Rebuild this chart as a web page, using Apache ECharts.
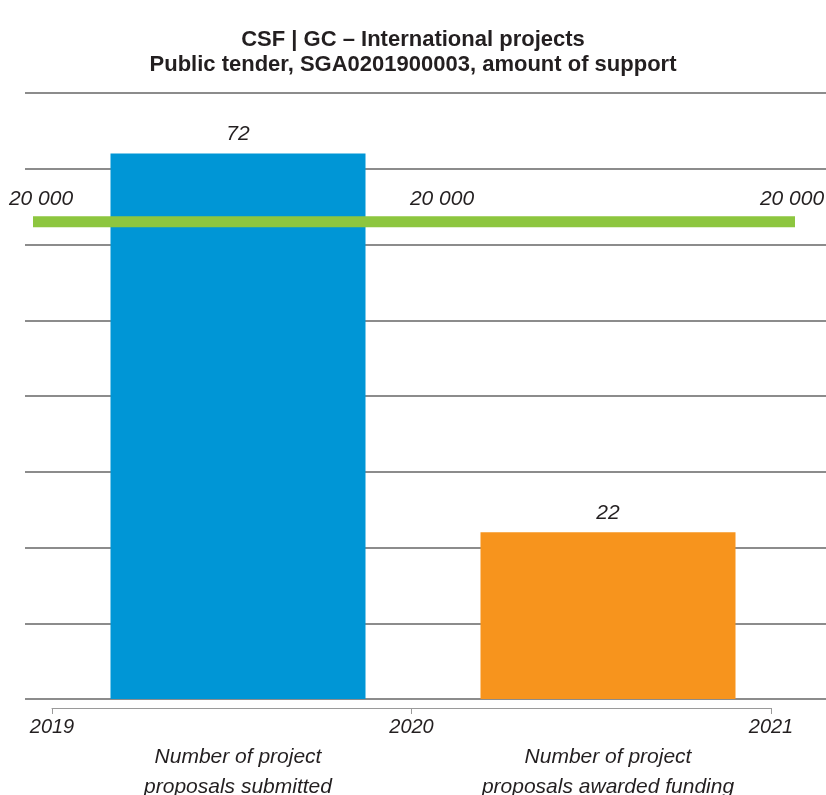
<!DOCTYPE html>
<html>
<head>
<meta charset="utf-8">
<script src="https://cdn.jsdelivr.net/npm/echarts@6/dist/echarts.min.js"></script>
<style>
html,body{margin:0;padding:0;background:#fff;}
#chart{width:826px;height:795px;}
</style>
</head>
<body>
<div id="chart"></div>
<script>
// ---- data ----
const titleLines = ["CSF | GC \u2013 International projects", "Public tender, SGA0201900003, amount of support"];
const categories = ["Number of project\nproposals submitted", "Number of project\nproposals awarded funding"];
const proposalCounts = [72, 22];
const years = [2019, 2020, 2021];
const supportAmounts = [20000, 20000, 20000];

// ---- styles ----
const barColors = ["#0096d6", "#f7941d"];
const greenColor = "#8dc63f";
const textColor = "#231f20";
const gridColor = "#8c8c8c";
const fontFamily = "'Liberation Sans', Arial, Helvetica, sans-serif";
const greenLabelOffsets = [[8, 0], [28, 0], [-3, 0]];

function fmtSpace(v) {
  return String(v).replace(/\B(?=(\d{3})+(?!\d))/g, " ");
}

const chart = echarts.init(document.getElementById('chart'), null, {renderer: 'canvas'});

const option = {
  backgroundColor: '#ffffff',
  animation: false,
  title: {
    text: titleLines.join('\n'),
    left: 'center',
    top: 22,
    textStyle: {
      fontFamily: fontFamily,
      fontWeight: 'bold',
      fontSize: 22,
      lineHeight: 25,
      color: textColor
    }
  },
  grid: [
    {left: 25, right: 0, top: 93, bottom: 96, outerBoundsMode: 'none', containLabel: false},
    {left: 53, right: 33, top: 93, bottom: 96, outerBoundsMode: 'none', containLabel: false},
    {left: 33, right: 31, top: 93, bottom: 96, outerBoundsMode: 'none', containLabel: false},
    {left: 52, right: 55, top: 700, bottom: 87, outerBoundsMode: 'none', containLabel: false}
  ],
  xAxis: [
    {gridIndex: 0, type: 'value', min: 0, max: 1, show: false},
    {
      gridIndex: 1, type: 'category', data: categories,
      axisLine: {show: false}, axisTick: {show: false},
      axisLabel: {
        interval: 0, margin: 43,
        fontFamily: fontFamily, fontStyle: 'italic', fontSize: 21,
        lineHeight: 30, color: textColor
      }
    },
    {gridIndex: 2, type: 'value', min: years[0], max: years[years.length - 1], show: false},
    {
      gridIndex: 3, type: 'value', min: years[0], max: years[years.length - 1], interval: 1,
      position: 'bottom',
      axisLine: {show: true, lineStyle: {color: '#9a9a9a', width: 1}},
      axisTick: {show: true, length: 6, lineStyle: {color: '#9a9a9a', width: 1}},
      splitLine: {show: false},
      axisLabel: {
        margin: 9, showMinLabel: true, showMaxLabel: true,
        formatter: function (v) { return String(v); },
        fontFamily: fontFamily, fontStyle: 'italic', fontSize: 20, color: textColor
      }
    }
  ],
  yAxis: [
    {
      gridIndex: 0, type: 'value', min: 0, max: 80, interval: 10,
      axisLine: {show: false}, axisTick: {show: false}, axisLabel: {show: false},
      splitLine: {show: true, lineStyle: {color: gridColor, width: 2}}
    },
    {gridIndex: 1, type: 'value', min: 0, max: 80, show: false, splitLine: {show: false}},
    {gridIndex: 2, type: 'value', min: 0, max: 25400, show: false, splitLine: {show: false}},
    {gridIndex: 3, type: 'value', min: 0, max: 1, show: false, splitLine: {show: false}}
  ],
  series: [
    {
      type: 'bar',
      xAxisIndex: 1, yAxisIndex: 1,
      barWidth: 255,
      data: proposalCounts.map((v, i) => ({value: v, itemStyle: {color: barColors[i]}})),
      label: {
        show: true, position: 'top', distance: 9,
        fontFamily: fontFamily, fontStyle: 'italic', fontSize: 21, color: textColor
      },
      z: 3
    },
    {
      type: 'line',
      xAxisIndex: 2, yAxisIndex: 2,
      data: years.map((y, i) => ({
        value: [y, supportAmounts[i]],
        label: {offset: greenLabelOffsets[i]}
      })),
      symbol: 'circle', symbolSize: 0,
      lineStyle: {color: greenColor, width: 11, cap: 'butt'},
      itemStyle: {color: greenColor},
      label: {
        show: true, position: 'top', distance: 12,
        formatter: function (p) { return fmtSpace(p.value[1]); },
        fontFamily: fontFamily, fontStyle: 'italic', fontSize: 21, color: textColor
      },
      z: 5
    }
  ]
};

chart.setOption(option);
</script>
</body>
</html>
